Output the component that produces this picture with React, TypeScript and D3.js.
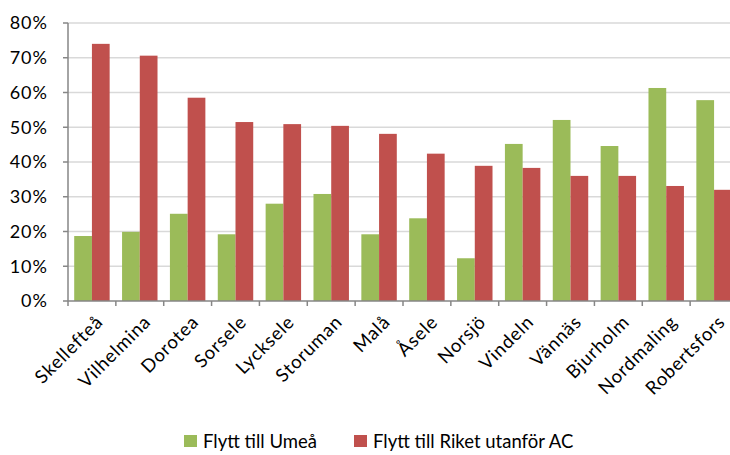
import React from "react";
import * as d3 from "d3";

const municipalities = [
  "Skellefteå", "Vilhelmina", "Dorotea", "Sorsele", "Lycksele", "Storuman", "Malå",
  "Åsele", "Norsjö", "Vindeln", "Vännäs", "Bjurholm", "Nordmaling", "Robertsfors",
];
const toUmea = [18.7, 19.9, 25.1, 19.2, 28.0, 30.8, 19.2, 23.8, 12.3, 45.2, 52.1, 44.6, 61.3, 57.8];
const toRiket = [74.0, 70.6, 58.5, 51.5, 50.9, 50.4, 48.1, 42.4, 38.9, 38.3, 36.0, 36.0, 33.1, 32.0];
const yTicks = [0, 10, 20, 30, 40, 50, 60, 70, 80];
const seriesNames = ["Flytt till Umeå", "Flytt till Riket utanför AC"];
const colors = ["#9BBB59", "#C0504D"];

const W = 730;
const H = 455;
const margin = { top: 23, right: -8, bottom: 154, left: 68 };
const font = "Lato, 'Open Sans', sans-serif";

export default function App() {
  const x = d3
    .scaleBand<string>()
    .domain(municipalities)
    .range([margin.left, W - margin.right])
    .paddingInner(0)
    .paddingOuter(0);
  const inner = d3
    .scaleBand<number>()
    .domain([0, 1])
    .range([0, x.bandwidth()])
    .paddingOuter(0.35)
    .paddingInner(0);
  const y = d3.scaleLinear().domain([0, 80]).range([H - margin.bottom, margin.top]);
  const series = [toUmea, toRiket];
  const base = y(0);

  return (
    <svg width={W} height={H} style={{ position: "absolute", left: 0, top: 0, background: "#fff" }}>
      {yTicks.map((t) => (
        <g key={t}>
          {t > 0 && (
            <line x1={margin.left} x2={W} y1={y(t)} y2={y(t)} stroke="#d9d9d9" strokeWidth={1.5} />
          )}
          <line x1={margin.left - 5} x2={margin.left} y1={y(t)} y2={y(t)} stroke="#868686" strokeWidth={1.5} />
          <text
            x={margin.left - 20}
            y={y(t)}
            dy="0.36em"
            textAnchor="end"
            fontFamily={font}
            fontSize={18}
            letterSpacing={1}
            fill="#000"
          >
            {t}%
          </text>
        </g>
      ))}
      {series.map((vals, si) =>
        vals.map((v, i) => (
          <rect
            key={`${si}-${i}`}
            x={(x(municipalities[i]) ?? 0) + (inner(si) ?? 0)}
            y={y(v)}
            width={inner.bandwidth()}
            height={base - y(v)}
            fill={colors[si]}
          />
        ))
      )}
      <line x1={margin.left} x2={margin.left} y1={margin.top} y2={base} stroke="#868686" strokeWidth={1.5} />
      <line x1={margin.left} x2={W} y1={base} y2={base} stroke="#868686" strokeWidth={1.5} />
      {municipalities.map((m) => (
        <line
          key={`t-${m}`}
          x1={x(m) ?? 0}
          x2={x(m) ?? 0}
          y1={base}
          y2={base + 5}
          stroke="#868686"
          strokeWidth={1.5}
        />
      ))}
      {municipalities.map((m) => {
        const cx = (x(m) ?? 0) + x.bandwidth() / 2 + 3;
        const cy = base + 13;
        return (
          <text
            key={`l-${m}`}
            transform={`translate(${cx},${cy}) rotate(-45)`}
            textAnchor="end"
            dy="0.7em"
            fontFamily={font}
            fontSize={18.5}
            letterSpacing={0.8}
            fill="#000"
          >
            {m}
          </text>
        );
      })}
      {seriesNames.map((n, i) => {
        const lx = i === 0 ? 184 : 354;
        return (
          <g key={n}>
            <rect x={lx} y={435} width={13} height={12} fill={colors[i]} />
            <text x={lx + 19} y={442} dy="0.35em" fontFamily={font} fontSize={18.5} fill="#000">
              {n}
            </text>
          </g>
        );
      })}
    </svg>
  );
}
